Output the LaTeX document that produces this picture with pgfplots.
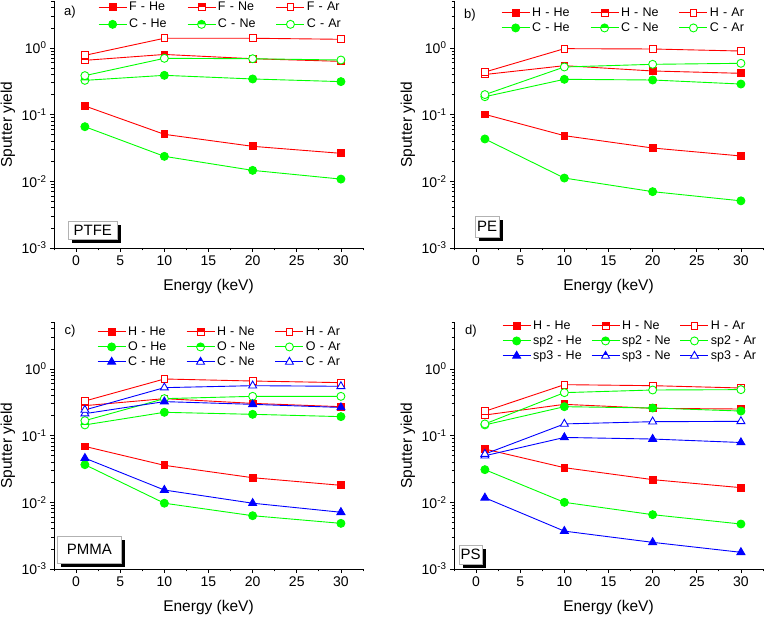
\documentclass[border=0pt]{standalone}
\usepackage{fontspec}
\setmainfont{Liberation Sans}
\usepackage{pgfplots}
\pgfplotsset{compat=1.18}

% half filled marks (top half in line colour, bottom half white)
\pgfdeclareplotmark{hsquare}{%
  \pgfpathrectangle{\pgfqpoint{-\pgfplotmarksize}{-\pgfplotmarksize}}{\pgfqpoint{2\pgfplotmarksize}{2\pgfplotmarksize}}%
  \pgfusepathqfill
  \pgfsetfillcolor{pgfstrokecolor}%
  \pgfpathrectangle{\pgfqpoint{-\pgfplotmarksize}{0pt}}{\pgfqpoint{2\pgfplotmarksize}{\pgfplotmarksize}}%
  \pgfusepathqfill
  \pgfpathrectangle{\pgfqpoint{-\pgfplotmarksize}{-\pgfplotmarksize}}{\pgfqpoint{2\pgfplotmarksize}{2\pgfplotmarksize}}%
  \pgfusepathqstroke}
\pgfdeclareplotmark{hcircle}{%
  \pgfpathcircle{\pgfpointorigin}{\pgfplotmarksize}%
  \pgfusepathqfill
  \pgfsetfillcolor{pgfstrokecolor}%
  \pgfpathmoveto{\pgfqpoint{\pgfplotmarksize}{0pt}}%
  \pgfpatharc{0}{180}{\pgfplotmarksize}%
  \pgfpathclose
  \pgfusepathqfill
  \pgfpathcircle{\pgfpointorigin}{\pgfplotmarksize}%
  \pgfusepathqstroke}
\pgfdeclareplotmark{htriangle}{%
  \pgfpathmoveto{\pgfqpointpolar{90}{\pgfplotmarksize}}%
  \pgfpathlineto{\pgfqpointpolar{210}{\pgfplotmarksize}}%
  \pgfpathlineto{\pgfqpointpolar{330}{\pgfplotmarksize}}%
  \pgfpathclose
  \pgfusepathqfill
  \pgfsetfillcolor{pgfstrokecolor}%
  \pgfpathmoveto{\pgfqpointpolar{90}{\pgfplotmarksize}}%
  \pgfpathlineto{\pgfqpoint{-0.433\pgfplotmarksize}{0.25\pgfplotmarksize}}%
  \pgfpathlineto{\pgfqpoint{0.433\pgfplotmarksize}{0.25\pgfplotmarksize}}%
  \pgfpathclose
  \pgfusepathqfill
  \pgfpathmoveto{\pgfqpointpolar{90}{\pgfplotmarksize}}%
  \pgfpathlineto{\pgfqpointpolar{210}{\pgfplotmarksize}}%
  \pgfpathlineto{\pgfqpointpolar{330}{\pgfplotmarksize}}%
  \pgfpathclose
  \pgfusepathqstroke}

\definecolor{ored}{RGB}{255,0,0}
\definecolor{ogreen}{RGB}{0,255,0}
\definecolor{oblue}{RGB}{0,0,255}

\pgfplotsset{
  fsq/.style={color=#1, line width=0.9pt, mark=square*, mark size=3.4pt, mark options={solid}},
  hsq/.style={color=#1, line width=0.9pt, mark=hsquare, mark size=3.4pt, mark options={solid, fill=white}},
  osq/.style={color=#1, line width=0.9pt, mark=square*, mark size=3.4pt, mark options={solid, fill=white}},
  fci/.style={color=#1, line width=0.9pt, mark=*, mark size=4pt, mark options={solid}},
  hci/.style={color=#1, line width=0.9pt, mark=hcircle, mark size=4pt, mark options={solid, fill=white}},
  oci/.style={color=#1, line width=0.9pt, mark=*, mark size=4pt, mark options={solid, fill=white}},
  ftr/.style={color=#1, line width=0.9pt, mark=triangle*, mark size=4.6pt, mark options={solid}},
  htr/.style={color=#1, line width=0.9pt, mark=htriangle, mark size=4.6pt, mark options={solid, fill=white}},
  otr/.style={color=#1, line width=0.9pt, mark=triangle*, mark size=4.6pt, mark options={solid, fill=white}},
}
\pgfplotsset{
  legend image code/.code={\draw[mark repeat=2,mark phase=2,#1] plot coordinates {(0pt,0pt) (14pt,0pt) (28pt,0pt)};},
}
\pgfplotsset{
  myaxis/.style={
    scale only axis, width=309pt, height=246.6pt,
    ymin=1e-3, ymax=5, xmin=-2.5, xmax=32.5,
    axis lines*=left, tick align=outside,
    axis line style={line width=0.9pt},
    xtick={0,5,10,15,20,25,30}, xticklabels={0,5,10,15,20,25,30},
    minor xtick={-2.5,2.5,7.5,12.5,17.5,22.5,27.5,32.5},
    ytick={1e-3,1e-2,1e-1,1},
    yticklabels={10\textsuperscript{-3},10\textsuperscript{-2},10\textsuperscript{-1},10\textsuperscript{0}},
    minor ytick={2e-3,3e-3,4e-3,5e-3,6e-3,7e-3,8e-3,9e-3,
                 2e-2,3e-2,4e-2,5e-2,6e-2,7e-2,8e-2,9e-2,
                 0.2,0.3,0.4,0.5,0.6,0.7,0.8,0.9,2,3,4,5},
    major tick length=4pt, minor tick length=2.5pt,
    every tick/.style={black, line width=0.8pt},
    tick label style={font=\fontsize{14}{16}\selectfont},
    label style={font=\fontsize{15.5}{18}\selectfont},
    xlabel={Energy (keV)}, ylabel={Sputter yield},
    x label style={at={(axis description cs:0.5,-0.158)}, anchor=center},
    y label style={at={(axis description cs:-0.149,0.5)}, anchor=center},
    legend columns=3,
    legend cell align=left,
    legend style={draw=none, fill=none, at={(0,1)}, anchor=north west, inner sep=0pt,
      font=\fontsize{12.5}{14}\selectfont, column sep=0pt, row sep=3.5pt,
      nodes={inner xsep=2pt, inner ysep=0pt, text height=9pt, text depth=2.5pt, text width=50pt, align=left}},
  },
}
\tikzset{every even column/.append style={column sep=6pt}}
\newcommand{\tagbox}[5]{%
  \node[fill=black, anchor=south west, font=\fontsize{15}{17}\selectfont,
    text height=10.7pt, text depth=0pt, inner xsep=#4, inner ysep=#5, xshift=4pt, yshift=-4pt]
    at (rel axis cs:#2,#3) {\phantom{#1}};
  \node[draw=gray!60, fill=white, anchor=south west, font=\fontsize{15}{17}\selectfont,
    text height=10.7pt, text depth=0pt, inner xsep=#4, inner ysep=#5]
    at (rel axis cs:#2,#3) {#1};}

\begin{document}
\begin{tikzpicture}
\path[use as bounding box] (0pt,0pt) rectangle (766pt,618pt);

% a) PTFE
\begin{axis}[ymode=log, myaxis, at={(54pt,370pt)}, anchor=south west,
  legend style={xshift=44pt, yshift=0pt, row sep=5.5pt}]
\addplot[fsq=ored] coordinates {(1,0.135) (10,0.0507) (20,0.0335) (30,0.0263)};
\addlegendentry{F - He}
\addplot[hsq=ored] coordinates {(1,0.653) (10,0.80) (20,0.69) (30,0.63)};
\addlegendentry{F - Ne}
\addplot[osq=ored] coordinates {(1,0.776) (10,1.40) (20,1.40) (30,1.35)};
\addlegendentry{F - Ar}
\addplot[fci=ogreen] coordinates {(1,0.066) (10,0.0237) (20,0.0146) (30,0.0108)};
\addlegendentry{C - He}
\addplot[hci=ogreen] coordinates {(1,0.327) (10,0.389) (20,0.343) (30,0.313)};
\addlegendentry{C - Ne}
\addplot[oci=ogreen] coordinates {(1,0.385) (10,0.70) (20,0.69) (30,0.66)};
\addlegendentry{C - Ar}
\node[font=\fontsize{13}{15}\selectfont] at ([xshift=16pt,yshift=-11pt]rel axis cs:0,1) {a)};
\tagbox{PTFE}{0.045}{0.036}{5.5pt}{3.6pt}
\end{axis}

% b) PE
\begin{axis}[ymode=log, myaxis, at={(454pt,370pt)}, anchor=south west,
  legend style={xshift=47pt, yshift=-5.6pt}]
\addplot[fsq=ored] coordinates {(1,0.101) (10,0.0484) (20,0.0316) (30,0.024)};
\addlegendentry{H - He}
\addplot[hsq=ored] coordinates {(1,0.40) (10,0.543) (20,0.452) (30,0.417)};
\addlegendentry{H - Ne}
\addplot[osq=ored] coordinates {(1,0.436) (10,0.977) (20,0.966) (30,0.90)};
\addlegendentry{H - Ar}
\addplot[fci=ogreen] coordinates {(1,0.0432) (10,0.0112) (20,0.0070) (30,0.0051)};
\addlegendentry{C - He}
\addplot[hci=ogreen] coordinates {(1,0.186) (10,0.339) (20,0.331) (30,0.288)};
\addlegendentry{C - Ne}
\addplot[oci=ogreen] coordinates {(1,0.20) (10,0.519) (20,0.569) (30,0.589)};
\addlegendentry{C - Ar}
\node[font=\fontsize{13}{15}\selectfont] at ([xshift=16pt,yshift=-14pt]rel axis cs:0,1) {b)};
\tagbox{PE}{0.068}{0.045}{2pt}{5pt}
\end{axis}

% c) PMMA
\begin{axis}[ymode=log, myaxis, at={(54pt,49pt)}, anchor=south west,
  legend style={xshift=43pt, yshift=-3.6pt}]
\addplot[fsq=ored] coordinates {(1,0.069) (10,0.0359) (20,0.0234) (30,0.018)};
\addlegendentry{H - He}
\addplot[hsq=ored] coordinates {(1,0.282) (10,0.359) (20,0.305) (30,0.272)};
\addlegendentry{H - Ne}
\addplot[osq=ored] coordinates {(1,0.331) (10,0.708) (20,0.66) (30,0.624)};
\addlegendentry{H - Ar}
\addplot[fci=ogreen] coordinates {(1,0.0367) (10,0.0097) (20,0.0063) (30,0.00484)};
\addlegendentry{O - He}
\addplot[hci=ogreen] coordinates {(1,0.145) (10,0.224) (20,0.209) (30,0.193)};
\addlegendentry{O - Ne}
\addplot[oci=ogreen] coordinates {(1,0.168) (10,0.359) (20,0.389) (30,0.389)};
\addlegendentry{O - Ar}
\addplot[ftr=oblue] coordinates {(1,0.046) (10,0.0153) (20,0.0097) (30,0.0071)};
\addlegendentry{C - He}
\addplot[htr=oblue] coordinates {(1,0.214) (10,0.324) (20,0.295) (30,0.265)};
\addlegendentry{C - Ne}
\addplot[otr=oblue] coordinates {(1,0.243) (10,0.525) (20,0.562) (30,0.55)};
\addlegendentry{C - Ar}
\node[font=\fontsize{13}{15}\selectfont] at ([xshift=16pt,yshift=-9pt]rel axis cs:0,1) {c)};
\tagbox{PMMA}{0.01}{0.024}{9.5pt}{8pt}
\end{axis}

% d) PS
\begin{axis}[ymode=log, myaxis, at={(454pt,49pt)}, anchor=south west,
  legend style={xshift=48pt, yshift=2.4pt}]
\addplot[fsq=ored] coordinates {(1,0.063) (10,0.0331) (20,0.0219) (30,0.0166)};
\addlegendentry{H - He}
\addplot[hsq=ored] coordinates {(1,0.204) (10,0.295) (20,0.257) (30,0.251)};
\addlegendentry{H - Ne}
\addplot[osq=ored] coordinates {(1,0.232) (10,0.582) (20,0.562) (30,0.519)};
\addlegendentry{H - Ar}
\addplot[fci=ogreen] coordinates {(1,0.0309) (10,0.010) (20,0.00653) (30,0.00473)};
\addlegendentry{sp2 - He}
\addplot[hci=ogreen] coordinates {(1,0.145) (10,0.272) (20,0.26) (30,0.234)};
\addlegendentry{sp2 - Ne}
\addplot[oci=ogreen] coordinates {(1,0.15) (10,0.442) (20,0.484) (30,0.49)};
\addlegendentry{sp2 - Ar}
\addplot[ftr=oblue] coordinates {(1,0.0117) (10,0.0037) (20,0.00251) (30,0.00178)};
\addlegendentry{sp3 - He}
\addplot[htr=oblue] coordinates {(1,0.05) (10,0.094) (20,0.089) (30,0.079)};
\addlegendentry{sp3 - Ne}
\addplot[otr=oblue] coordinates {(1,0.053) (10,0.15) (20,0.162) (30,0.164)};
\addlegendentry{sp3 - Ar}
\node[font=\fontsize{13}{15}\selectfont] at ([xshift=17pt,yshift=-9pt]rel axis cs:0,1) {d)};
\tagbox{PS}{0.016}{0.02}{1.5pt}{4pt}
\end{axis}
\end{tikzpicture}
\end{document}
